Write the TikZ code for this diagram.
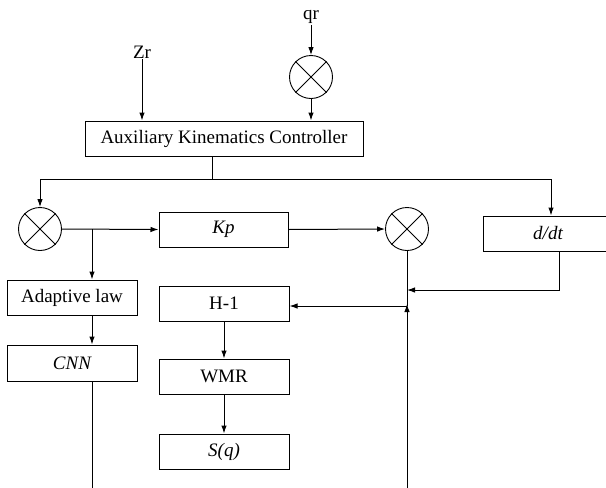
\documentclass[tikz,border=0pt]{standalone}
\usepackage{fontspec}
\setmainfont{Liberation Serif}
\usetikzlibrary{arrows.meta}
\tikzset{
  blk/.style={draw, line width=1pt, inner sep=0pt, minimum width=130pt, minimum height=35pt},
  mix/.style={draw, circle, line width=0.9pt, inner sep=0pt, minimum size=43pt},
  lbl/.style={inner sep=1pt},
  wire/.style={line width=1pt},
  arr/.style={wire, -{Latex[length=8pt,width=5.5pt]}},
}
\newcommand{\crossmix}[1]{\draw[line width=0.9pt] (#1.north east) -- (#1.south west) (#1.north west) -- (#1.south east);}
\begin{document}
\begin{tikzpicture}[x=1pt, y=-1pt, font=\fontsize{19}{22}\selectfont]
\path[use as bounding box, clip] (0,0) rectangle (606,488);
% blocks
\node[blk, minimum width=278pt] (akc) at (224,138.5) {Auxiliary Kinematics Controller};
\node[blk, minimum width=129pt] (kp) at (223.5,229.5) {\itshape Kp};
\node[blk] (ddt) at (548,233.5) {\itshape d/dt};
\node[blk] (ad) at (72,297.5) {Adaptive law};
\node[blk, minimum height=36pt] (cnn) at (72,363) {\itshape CNN};
\node[blk] (h1) at (224,303.5) {H-1};
\node[blk] (wmr) at (224,376.5) {WMR};
\node[blk] (sq) at (224,451.5) {\itshape S(q)};
% mixers
\node[mix] (c1) at (40,229) {};
\node[mix] (c2) at (407,229) {};
\node[mix] (c3) at (311,77) {};
\crossmix{c1}
\crossmix{c2}
\crossmix{c3}
% inputs
\node[lbl] (zr) at (142,52) {Zr};
\node[lbl] (qr) at (311,17) {qr};
% coordinates
\coordinate (tl) at (40,179);
\coordinate (tr) at (551,179);
\coordinate (tm) at (212,179);
\coordinate (b1) at (92,229);
\coordinate (j2) at (407,306);
\coordinate (d1) at (559,290);
\coordinate (bl) at (92,488);
\coordinate (br) at (407,488);
% connectors
\draw[arr] (qr.south) -- (c3.north);
\draw[arr] (c3.south) -- (c3.south |- akc.north);
\draw[arr] (zr.south) -- (zr.south |- akc.north);
\draw[wire] (akc.south -| tm) -- (tm);
\draw[wire] (tl) -- (tr);
\draw[arr] (tl) -- (c1.north);
\draw[arr] (tr) -- (tr |- ddt.north);
\draw[arr] (c1.east) -- (kp.west);
\draw[arr] (b1) -- (b1 |- ad.north);
\draw[arr] (ad.south -| b1) -- (cnn.north -| b1);
\draw[wire] (cnn.south -| b1) -- (bl);
\draw[arr] (kp.east) -- (c2.west);
\draw[wire] (c2.south) -- (j2);
\draw[arr] (j2) -- (j2 -| h1.east);
\draw[arr] (br) -- ([yshift=2pt]j2);
\draw[arr] (ddt.south -| d1) -- (d1) -- (d1 -| c2);
\draw[arr] (h1.south) -- (wmr.north);
\draw[arr] (wmr.south) -- (sq.north);
\end{tikzpicture}
\end{document}
